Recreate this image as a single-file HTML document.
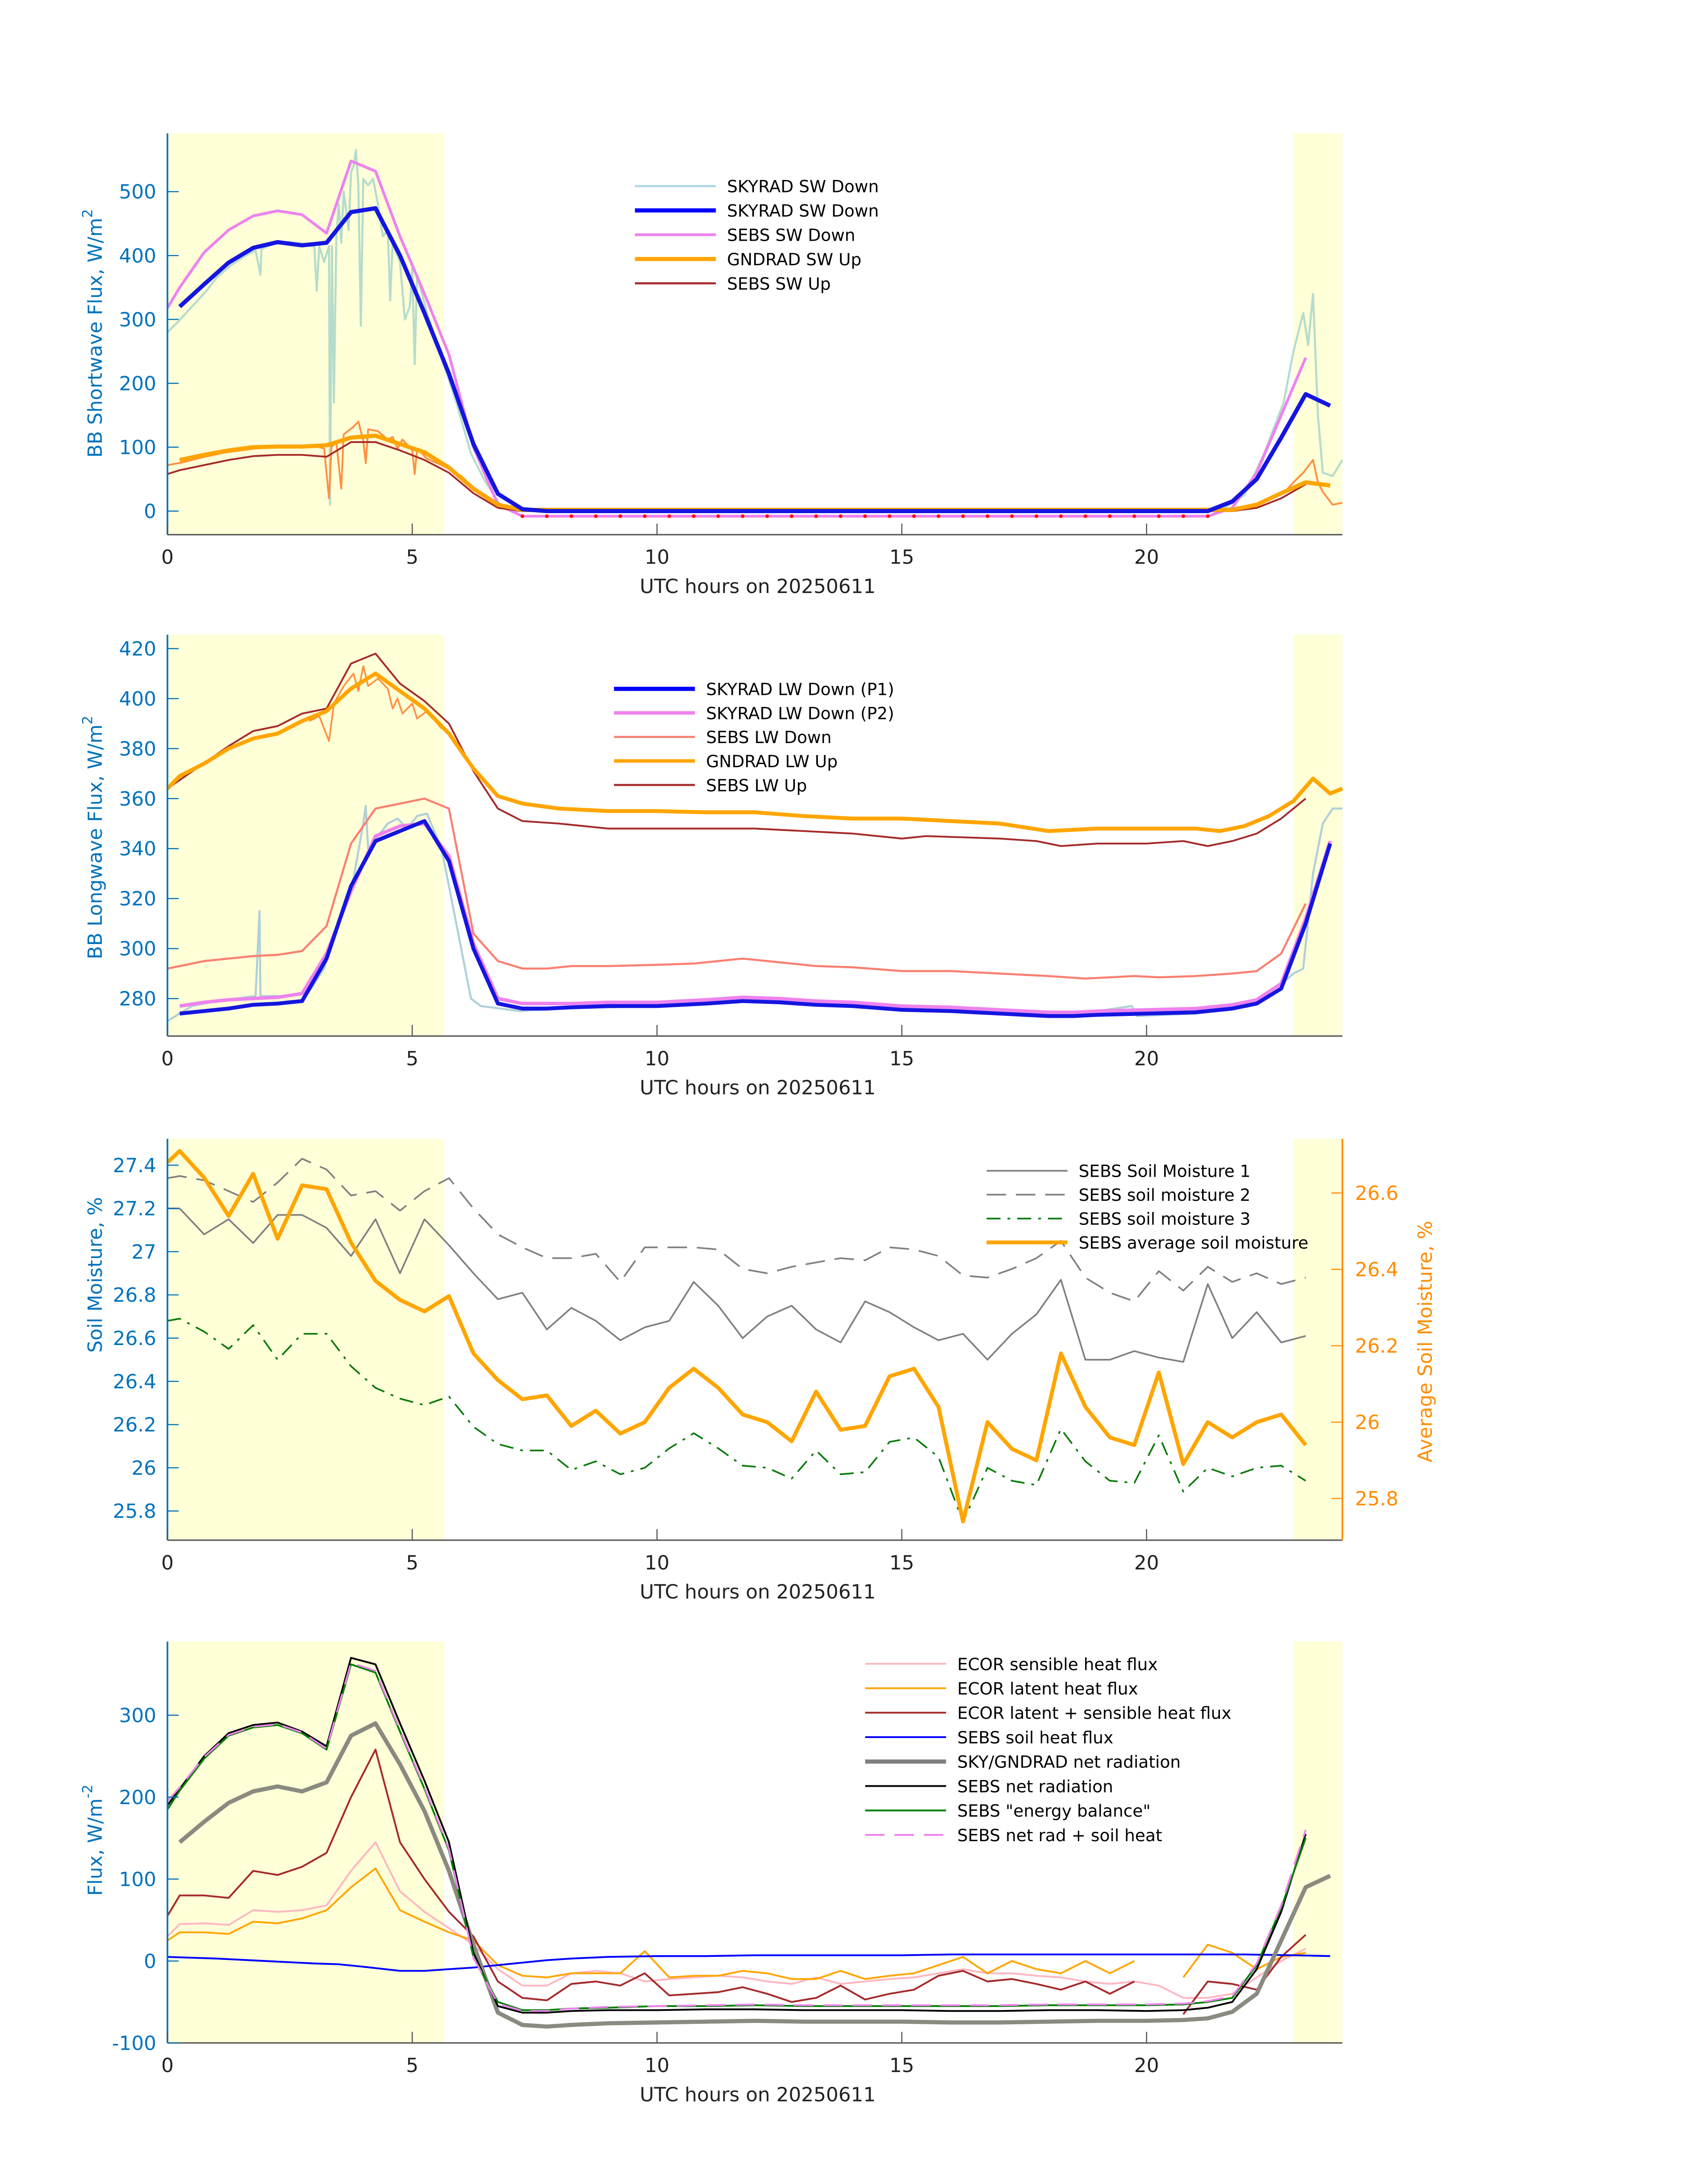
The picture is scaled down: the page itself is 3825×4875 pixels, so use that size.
<!DOCTYPE html>
<html><head><meta charset="utf-8"><style>
html,body{margin:0;padding:0;background:#fff}
svg{display:block}
text{font-family:"DejaVu Sans","Liberation Sans",sans-serif}
</style></head><body>
<svg id="svgroot" xmlns="http://www.w3.org/2000/svg" width="3825" height="4875" viewBox="0 0 1224 1560"><g id="fig" transform="scale(1,0.9952)"></g></svg>
<script>
// ---------- Panel 1 data (shortwave) ----------
const swSkyMinT=[0,0.2,0.5,0.8,1.0,1.3,1.6,1.8,1.9,1.92,2.2,2.5,2.8,3.0,3.05,3.1,3.2,3.3,3.32,3.36,3.4,3.45,3.5,3.55,3.6,3.7,3.75,3.8,3.85,3.9,3.95,4.0,4.1,4.2,4.3,4.4,4.5,4.55,4.6,4.75,4.85,4.95,5.0,5.05,5.1,5.3,5.6,5.9,6.2,6.5,6.8,7.0,7.3,21.5,22,22.4,22.8,23.0,23.2,23.3,23.4,23.5,23.6,23.8,24];
const swSkyMinV=[280,295,320,345,365,385,400,408,370,410,420,421,418,414,345,414,390,415,10,415,170,430,480,420,500,440,530,540,565,510,290,520,510,520,480,430,440,330,420,390,300,320,380,230,370,310,240,170,90,45,10,0,0,0,25,90,170,250,310,260,340,150,60,55,80];
const swSkyT=[0.25,0.75,1.25,1.75,2.25,2.75,3.25,3.75,4.25,4.75,5.25,5.75,6.25,6.75,7.25,7.75,21.25,21.75,22.25,22.75,23.25,23.75];
const swSkyV=[320,355,389,412,421,416,420,468,474,400,310,215,105,27,3,0,0,15,50,115,183,165];
const swSebsDnT=[0,0.25,0.75,1.25,1.75,2.25,2.75,3.25,3.75,4.25,4.75,5.25,5.75,6.25,6.75,7.25,21.25,21.75,22.25,22.75,23.25];
const swSebsDnV=[318,350,405,440,462,470,464,435,548,532,430,340,245,100,10,-8,-8,5,60,150,240];
const swSebsDotT=[7.25,7.75,8.25,8.75,9.25,9.75,10.25,10.75,11.25,11.75,12.25,12.75,13.25,13.75,14.25,14.75,15.25,15.75,16.25,16.75,17.25,17.75,18.25,18.75,19.25,19.75,20.25,20.75,21.25];
const swGndMinT=[0,0.3,0.7,1.2,1.8,2.4,3.0,3.2,3.3,3.35,3.45,3.55,3.6,3.8,3.9,4.0,4.05,4.1,4.3,4.5,4.6,4.7,4.8,5.0,5.05,5.1,5.3,5.6,5.8,6.0,6.3,6.8,7.2,21.5,22.2,22.8,23.0,23.2,23.4,23.5,23.6,23.8,24];
const swGndMinV=[72,76,84,92,98,101,102,98,20,100,108,35,120,132,140,110,75,128,125,112,116,98,112,95,58,98,82,72,64,55,33,8,1,1,8,28,45,60,80,45,30,10,13];
const swGndT=[0.25,0.75,1.25,1.75,2.25,2.75,3.25,3.75,4.25,4.75,5.25,5.75,6.25,6.75,7.25,21.75,22.25,22.75,23.25,23.75];
const swGndV=[80,88,95,100,101,101,103,115,118,105,92,68,35,10,2,2,10,28,45,40];
const swSebsUpT=[0,0.25,0.75,1.25,1.75,2.25,2.75,3.25,3.75,4.25,4.75,5.25,5.75,6.25,6.75,7.25,21.75,22.25,22.75,23.25];
const swSebsUpV=[58,64,72,80,86,88,88,85,108,108,95,80,60,28,5,0,0,5,20,42];
// ---------- Panel 2 data (longwave) ----------
const lwSkyMinT=[0,0.5,1,1.8,1.88,1.9,2.5,2.9,3.2,3.5,3.8,4.0,4.05,4.1,4.3,4.5,4.7,4.9,5.1,5.3,5.6,5.9,6.2,6.4,6.8,7.2,8,10,12,14,16,17.5,18.5,19,19.7,19.8,21,22,22.7,23,23.2,23.4,23.6,23.8,24];
const lwSkyMinV=[271,277,279,281,315,281,281,283,292,310,328,350,357,340,345,350,352,348,353,354,340,310,280,277,276,275,276,277,279,277,275,274,273.5,275,277,273,274,277,285,290,292,330,350,356,356];
const lwP1T=[0.25,0.75,1.25,1.75,2.25,2.75,3.25,3.75,4.25,4.75,5.25,5.75,6.25,6.75,7.25,7.75,8.25,9,10,11,11.75,12.5,13.25,14,15,16,17,18,18.5,19,20,21,21.75,22.25,22.75,23.25,23.75];
const lwP1V=[274,275,276,277.5,278,279,296,325,343,347,351,335,300,278,276,276,276.5,277,277,278,279,278.5,277.5,277,275.5,275,274,273,273,273.5,274,274.5,276,278,284,310,342];
const lwP2V=[277,278.5,279.5,280,280.5,282,298,323,345,349,350,337,302,280,278,278,278,278.5,278.5,279.5,280.5,280,279,278.5,277,276.5,275.5,274.5,274.5,275,275.5,276,277.5,279.5,286,312,343];
const lwSebsDnT=[0,0.75,1.25,1.75,2.25,2.75,3.25,3.75,4.25,4.75,5.25,5.75,6.25,6.75,7.25,7.75,8.25,9,10,10.75,11.25,11.75,12.5,13.25,14,15,16,17,18,18.75,19.75,20.25,21,21.75,22.25,22.75,23.25];
const lwSebsDnV=[292,295,296,297,297.5,299,309,342,356,358,360,356,306,295,292,292,293,293,293.5,294,295,296,294.5,293,292.5,291,291,290,289,288,289,288.5,289,290,291,298,318];
const lwGndT=[0,0.25,0.75,1.25,1.75,2.25,2.75,3.25,3.75,4.25,4.75,5.25,5.75,6.25,6.75,7.25,8,9,10,11,12,13,14,15,16,17,18,19,20,21,21.5,22,22.5,23,23.4,23.75,24];
const lwGndV=[364,369,374,380,384,386,391,395,404,410,403,396,386,372,361,358,356,355,355,354.5,354.5,353,352,352,351,350,347,348,348,348,347,349,353,359,368,362,364];
const lwGndMinT=[2.9,3.1,3.3,3.4,3.6,3.8,3.9,4.0,4.1,4.3,4.5,4.6,4.7,4.8,5.0,5.1,5.3,5.6];
const lwGndMinV=[391,393,383,398,405,410,403,413,405,408,404,396,400,394,398,392,395,388];
const lwSebsUpT=[0,1.25,1.75,2.25,2.75,3.25,3.75,4.25,4.75,5.25,5.75,6.25,6.75,7.25,8,9,10,11,12,13,14,15,15.5,17,17.75,18.25,19,20,20.75,21.25,21.75,22.25,22.75,23.25];
const lwSebsUpV=[364,381,387,389,394,396,414,418,406,399,390,371,356,351,350,348,348,348,348,347,346,344,345,344,343,341,342,342,343,341,343,346,352,360];
// ---------- Panel 3 data (soil moisture) ----------
const smT=[0,0.25,0.75,1.25,1.75,2.25,2.75,3.25,3.75,4.25,4.75,5.25,5.75,6.25,6.75,7.25,7.75,8.25,8.75,9.25,9.75,10.25,10.75,11.25,11.75,12.25,12.75,13.25,13.75,14.25,14.75,15.25,15.75,16.25,16.75,17.25,17.75,18.25,18.75,19.25,19.75,20.25,20.75,21.25,21.75,22.25,22.75,23.25];
const sm1V=[27.2,27.2,27.08,27.15,27.04,27.17,27.17,27.11,26.98,27.15,26.9,27.15,27.03,26.9,26.78,26.81,26.64,26.74,26.68,26.59,26.65,26.68,26.86,26.75,26.6,26.7,26.75,26.64,26.58,26.77,26.72,26.65,26.59,26.62,26.5,26.62,26.71,26.87,26.5,26.5,26.54,26.51,26.49,26.85,26.6,26.72,26.58,26.61];
const sm2V=[27.34,27.35,27.33,27.28,27.23,27.32,27.43,27.38,27.26,27.28,27.19,27.28,27.34,27.2,27.08,27.02,26.97,26.97,26.99,26.86,27.02,27.02,27.02,27.01,26.92,26.9,26.93,26.95,26.97,26.96,27.02,27.01,26.98,26.89,26.88,26.92,26.97,27.05,26.88,26.81,26.77,26.91,26.82,26.93,26.86,26.9,26.85,26.88];
const sm3V=[26.68,26.69,26.63,26.55,26.66,26.5,26.62,26.62,26.47,26.37,26.32,26.29,26.33,26.19,26.11,26.08,26.08,25.99,26.03,25.97,26.0,26.09,26.16,26.09,26.01,26.0,25.95,26.08,25.97,25.98,26.12,26.14,26.05,25.75,26.0,25.94,25.92,26.18,26.03,25.94,25.93,26.15,25.89,26.0,25.96,26.0,26.01,25.94];
const smAvgV=[26.68,26.71,26.64,26.54,26.65,26.48,26.62,26.61,26.47,26.37,26.32,26.29,26.33,26.18,26.11,26.06,26.07,25.99,26.03,25.97,26.0,26.09,26.14,26.09,26.02,26.0,25.95,26.08,25.98,25.99,26.12,26.14,26.04,25.74,26.0,25.93,25.9,26.18,26.04,25.96,25.94,26.13,25.89,26.0,25.96,26.0,26.02,25.94];
// ---------- Panel 4 data (energy fluxes) ----------
const fxT=[0,0.25,0.75,1.25,1.75,2.25,2.75,3.25,3.75,4.25,4.75,5.25,5.75,6.25,6.75,7.25,7.75,8.25,8.75,9.25,9.75,10.25,10.75,11.25,11.75,12.25,12.75,13.25,13.75,14.25,14.75,15.25,15.75,16.25,16.75,17.25,17.75,18.25,18.75,19.25,19.75,20.25,20.75,21.25,21.75,22.25,22.75,23.25];
const fxSensV=[30,45,46,44,62,60,62,68,110,145,85,60,40,20,-10,-30,-30,-15,-12,-15,-25,-22,-20,-18,-20,-25,-28,-20,-28,-25,-22,-20,-15,-10,-15,-15,-18,-20,-25,-28,-25,-30,-45,-45,-40,-20,0,15];
const fxLatV=[25,35,35,33,48,46,52,62,90,113,62,48,35,25,-5,-18,-20,-15,-15,-15,12,-20,-18,-18,-12,-15,-22,-22,-12,-22,-18,-15,-5,5,-15,0,-10,-15,0,-15,0,null,-20,20,10,-10,5,10];
const fxSumV=[55,80,80,77,110,105,115,132,200,258,145,100,60,30,-25,-45,-48,-28,-25,-30,-15,-42,-40,-38,-32,-40,-50,-45,-30,-47,-40,-35,-18,-12,-25,-22,-28,-35,-25,-40,-25,null,-65,-25,-28,-35,5,32];
const fxSoilT=[0,1,2,3,3.5,4,4.75,5.25,5.75,6.25,6.75,7.25,7.75,8.25,9,10,11,12,13,14,15,16,17,18,19,20,21,22,23,23.75];
const fxSoilV=[5,3,0,-3,-4,-7,-12,-12,-10,-8,-5,-2,1,3,5,6,6,7,7,7,7,8,8,8,8,8,8,8,7,6];
const fxNetT=[0.25,0.75,1.25,1.75,2.25,2.75,3.25,3.75,4.25,4.75,5.25,5.75,6.25,6.75,7.25,7.75,8.25,9,10,11,12,13,14,15,16,17,18,19,20,20.75,21.25,21.75,22.25,22.75,23.25,23.75];
const fxNetV=[145,170,193,207,213,207,218,275,290,240,183,110,20,-63,-78,-80,-78,-76,-75,-74,-73,-74,-74,-74,-75,-75,-74,-73,-73,-72,-70,-62,-40,25,90,104];
const fxSebsT=[0,0.25,0.75,1.25,1.75,2.25,2.75,3.25,3.75,4.25,4.75,5.25,5.75,6.25,6.75,7.25,7.75,8.25,9,10,11,12,13,14,15,16,17,18,19,20,20.75,21.25,21.75,22.25,22.75,23.25];
const fxSebsNetV=[190,210,250,278,288,291,280,262,370,362,290,220,145,10,-55,-63,-63,-61,-60,-60,-59,-59,-60,-60,-60,-61,-61,-60,-60,-61,-60,-57,-50,-10,60,155];
const fxEbalV=[185,208,247,275,285,288,278,258,362,352,280,210,135,5,-50,-60,-60,-58,-57,-55,-55,-54,-55,-55,-55,-55,-55,-54,-54,-54,-53,-50,-45,-5,65,150];
const fxNetSoilV=[195,212,249,276,286,289,279,259,364,354,282,212,137,4,-52,-61,-61,-58,-56,-55,-54,-53,-54,-54,-54,-54,-54,-53,-53,-53,-52,-49,-43,-3,68,160];

const xTicks=[0,5,10,15,20];
const p1Ticks=[0,100,200,300,400,500];
const p2Ticks=[280,300,320,340,360,380,400,420];
const p3Ticks=[25.8,26,26.2,26.4,26.6,26.8,27,27.2,27.4];
const p3RTicks=[25.8,26,26.2,26.4,26.6];
const p4Ticks=[-100,0,100,200,300];

const NS='http://www.w3.org/2000/svg';
const fig=document.getElementById('fig');
function el(tag,attrs,parent){const e=document.createElementNS(NS,tag);for(const k in attrs)e.setAttribute(k,attrs[k]);(parent||fig).appendChild(e);return e;}
const X0=120,X1=962;
function sx(t){return X0+(X1-X0)*t/24;}
function mkY(v0,p0,v1,p1){return v=>p0+(v-v0)*(p1-p0)/(v1-v0);}
function pathD(T,V,sy){let d='',pen=false;for(let i=0;i<T.length;i++){if(V[i]===null||V[i]===undefined){pen=false;continue;}d+=(pen?'L':'M')+sx(T[i]).toFixed(2)+' '+sy(V[i]).toFixed(2);pen=true;}return d;}
function line(g,T,V,sy,col,w,name,dash){const p=el('path',{d:pathD(T,V,sy),fill:'none',stroke:col,'stroke-width':w,'stroke-linejoin':'round'},g);if(dash)p.setAttribute('stroke-dasharray',dash);


return p;}

function panel(id,top,bot,yScale,ticks,fmt,ylab,ylabY){
  const g=el('g',{});
  
  
  el('rect',{x:X0,y:top,width:sx(5.65)-X0,height:bot-top,fill:'#ffffd8'},g);
  el('rect',{x:sx(23),y:top,width:X1-sx(23),height:bot-top,fill:'#ffffd8'},g);
  const lines=el('g',{},g);
  el('line',{x1:X0,y1:bot,x2:X1,y2:bot,stroke:'#555','stroke-width':1},g);
  const la=el('line',{x1:X0,y1:top,x2:X0,y2:bot,stroke:'#0072bd','stroke-width':1.2},g);
  
  
  ticks.forEach(v=>{const y=yScale(v);el('line',{x1:X0,y1:y,x2:X0+8,y2:y,stroke:'#0072bd','stroke-width':0.8},g);
    const t=el('text',{x:X0-8,y:y+5,'text-anchor':'end','font-size':14,fill:'#0072bd'},g);t.textContent=fmt(v);
    
    });
  xTicks.forEach(v=>{const x=sx(v);el('line',{x1:x,y1:bot,x2:x,y2:bot-8,stroke:'#555','stroke-width':0.8},g);
    const t=el('text',{x:x,y:bot+21,'text-anchor':'middle','font-size':14,fill:'#222'},g);t.textContent=v;
    
    });
  const xl=el('text',{x:543,y:bot+42,'text-anchor':'middle','font-size':14,fill:'#222'},g);xl.textContent='UTC hours on 20250611';
  
  
  const yl=el('text',{x:0,y:0,'text-anchor':'middle','font-size':14,fill:'#0072bd',transform:`translate(73,${ylabY}) rotate(-90)`},g);
  yl.innerHTML=ylab;
  
  
  return {g,lines};
}
function legend(g,x,y0,dy,items){
  const lg=el('g',{},g);
  
  
  items.forEach((it,i)=>{const y=y0+i*dy;
    const l=el('line',{x1:x,y1:y,x2:x+58,y2:y,stroke:it[1],'stroke-width':it[2]},lg);if(it[3])l.setAttribute('stroke-dasharray',it[3]);
    const t=el('text',{x:x+66,y:y+4.5,'font-size':12,fill:'#000'},lg);t.textContent=it[0];
    
    });
}

// Panel 1
{const sy=mkY(0,368,500,138);const P=panel('shortwave-panel',96,385,sy,p1Ticks,v=>v,'BB Shortwave Flux, W/m<tspan dy="-7" font-size="10">2</tspan>',240);
 const L=P.lines;
 line(L,swSkyMinT,swSkyMinV,sy,'#b5dccb',1.5,'skyrad-sw-down-1min');
 line(L,swGndMinT,swGndMinV,sy,'#ff9040',1.3,'gndrad-sw-up-1min');
 line(L,swSebsDnT,swSebsDnV,sy,'#ee82ee',2,'sebs-sw-down');
 swSebsDotT.forEach(t=>{const c=el('circle',{cx:sx(t),cy:sy(-8),r:1.3,fill:'#ff0000'},L);
   
   });
 line(L,swSebsUpT,swSebsUpV,sy,'#a52a2a',1.3,'sebs-sw-up');
 line(L,swGndT,swGndV,sy,'#ffa500',3,'gndrad-sw-up');
 line(L,swSkyT,swSkyV,sy,'#1515e0',3,'skyrad-sw-down');
 legend(P.g,455,134,17.5,[['SKYRAD SW Down','#add8e6',1.5],['SKYRAD SW Down','#0000ff',3],['SEBS SW Down','#ee82ee',2],['GNDRAD SW Up','#ffa500',3],['SEBS SW Up','#a52a2a',1.5]]);}
// Panel 2
{const sy=mkY(280,719,420,467);const P=panel('longwave-panel',457,746,sy,p2Ticks,v=>v,'BB Longwave Flux, W/m<tspan dy="-7" font-size="10">2</tspan>',603);
 const L=P.lines;
 line(L,lwSkyMinT,lwSkyMinV,sy,'#b0d0d8',1.5,'skyrad-lw-down-1min');
 line(L,lwSebsDnT,lwSebsDnV,sy,'#fa8072',1.5,'sebs-lw-down');
 line(L,lwSebsUpT,lwSebsUpV,sy,'#a52a2a',1.3,'sebs-lw-up');
 line(L,lwGndMinT,lwGndMinV,sy,'#ff9040',1.2,'gndrad-lw-up-1min');
 line(L,lwGndT,lwGndV,sy,'#ffa500',2.8,'gndrad-lw-up');
 line(L,lwP1T,lwP2V,sy,'#ee82ee',2.5,'skyrad-lw-down-p2');
 line(L,lwP1T,lwP1V,sy,'#1515e0',2.8,'skyrad-lw-down-p1');
 legend(P.g,440,496,17.3,[['SKYRAD LW Down (P1)','#0000ff',3],['SKYRAD LW Down (P2)','#ee82ee',2.5],['SEBS LW Down','#fa8072',1.5],['GNDRAD LW Up','#ffa500',2.5],['SEBS LW Up','#a52a2a',1.5]]);}
// Panel 3
{const sy=mkY(25.8,1088,27.4,839);const sr=mkY(25.8,1079,26.6,859);
 const P=panel('soil-moisture-panel',820,1109,sy,p3Ticks,v=>(+v.toFixed(1)).toString(),'Soil Moisture, %',918);
 const L=P.lines;
 el('line',{x1:X1,y1:820,x2:X1,y2:1109,stroke:'#ff8c00','stroke-width':1.2},P.g);
 p3RTicks.forEach(v=>{const y=sr(v);el('line',{x1:X1-8,y1:y,x2:X1,y2:y,stroke:'#ff8c00','stroke-width':0.8},P.g);
   const t=el('text',{x:X1+9,y:y+5,'font-size':14,fill:'#ff8c00'},P.g);t.textContent=(+v.toFixed(1)).toString();
   
   });
 const rl=el('text',{x:0,y:0,'text-anchor':'middle','font-size':14,fill:'#ff8c00',transform:'translate(1026,966) rotate(-90)'},P.g);rl.textContent='Average Soil Moisture, %';
 
 
 line(L,smT,sm1V,sy,'#808080',1.2,'sebs-soil-moisture-1');
 line(L,smT,sm2V,sy,'#808080',1.2,'sebs-soil-moisture-2','14,7');
 line(L,smT,sm3V,sy,'#0a7a0a',1.2,'sebs-soil-moisture-3','10,5,2,5');
 line(L,smT,smAvgV,sr,'#ffa500',2.8,'sebs-average-soil-moisture');
 legend(P.g,707,843,17.2,[['SEBS Soil Moisture 1','#808080',1.2],['SEBS soil moisture 2','#808080',1.2,'14,7'],['SEBS soil moisture 3','#0a7a0a',1.2,'10,5,2,5'],['SEBS average soil moisture','#ffa500',2.8]]);}
// Panel 4
{const sy=mkY(0,1412,300,1235);const P=panel('energy-flux-panel',1182,1471,sy,p4Ticks,v=>v,'Flux, W/m<tspan dy="-7" font-size="10">-2</tspan>',1325);
 const L=P.lines;
 line(L,fxT,fxSensV,sy,'#ffb6c1',1.3,'ecor-sensible-heat-flux');
 line(L,fxT,fxLatV,sy,'#ffa500',1.3,'ecor-latent-heat-flux');
 line(L,fxT,fxSumV,sy,'#a52a2a',1.3,'ecor-latent-plus-sensible');
 line(L,fxSoilT,fxSoilV,sy,'#0000ff',1.3,'sebs-soil-heat-flux');
 line(L,fxNetT,fxNetV,sy,'#8a8a80',3,'sky-gndrad-net-radiation');
 line(L,fxSebsT,fxSebsNetV,sy,'#000000',1.3,'sebs-net-radiation');
 line(L,fxSebsT,fxEbalV,sy,'#008000',1.3,'sebs-energy-balance');
 line(L,fxSebsT,fxNetSoilV,sy,'#ee82ee',1.3,'sebs-net-rad-plus-soil-heat','14,7');
 legend(P.g,620,1198,17.6,[['ECOR sensible heat flux','#ffb6c1',1.3],['ECOR latent heat flux','#ffa500',1.3],['ECOR latent + sensible heat flux','#a52a2a',1.3],['SEBS soil heat flux','#0000ff',1.3],['SKY/GNDRAD net radiation','#808080',3],['SEBS net radiation','#000000',1.3],['SEBS "energy balance"','#008000',1.3],['SEBS net rad + soil heat','#ee82ee',1.3,'14,7']]);}
</script>
</body></html>
